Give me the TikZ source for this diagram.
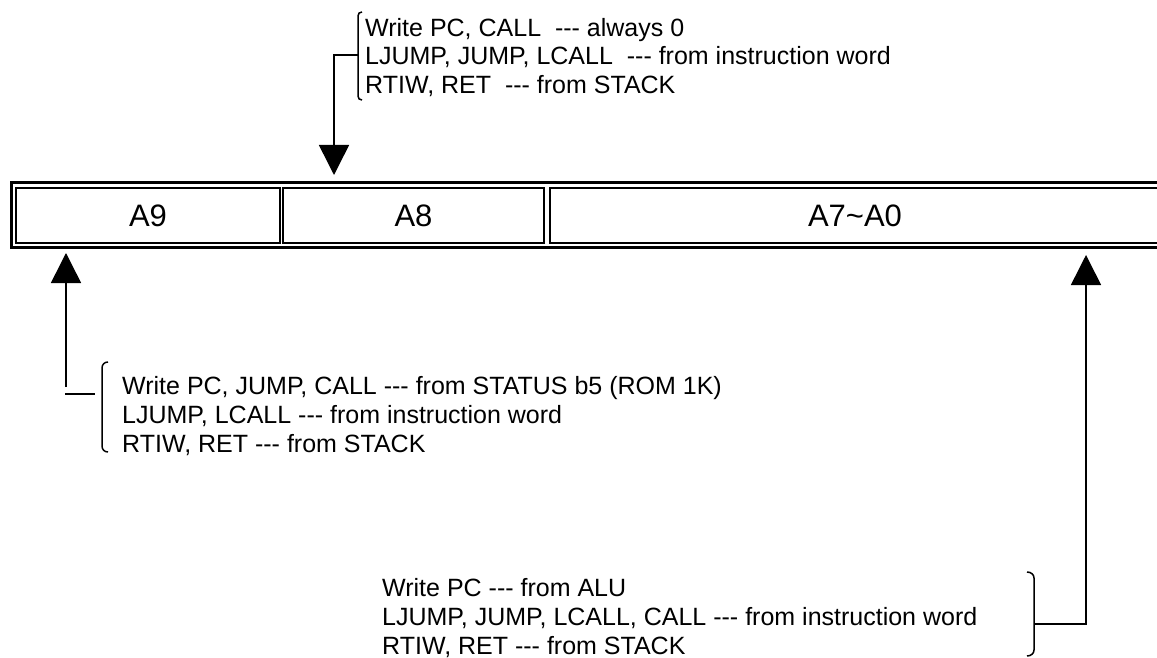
\documentclass[tikz,border=0pt]{standalone}
\usepackage{fontspec}
\newfontfamily\arial{Liberation Sans}
\usetikzlibrary{arrows.meta}
\newcommand{\dsh}{-{}-{}-}
\tikzset{
  regbox/.style={draw, line width=1.5pt, inner sep=0pt, minimum height=55pt,
    font=\arial\fontsize{31}{36}\selectfont},
  note/.style={anchor=west, inner sep=0pt, align=left,
    font=\arial\fontsize{25}{28.75}\selectfont},
  wire/.style={line width=1.5pt},
  bigarrow/.style={wire, -{Triangle[width=30pt,length=30pt]}},
  bracket/.style={line width=1.5pt}
}
\begin{document}
\begin{tikzpicture}[x=1pt,y=-1pt]
\useasboundingbox (0,0) rectangle (1157,658);
% register
\draw[line width=3pt] (11,183) rectangle (1190,247);
\node[regbox, minimum width=264pt] (a9) at (148,215.5) {A9};
\node[regbox, minimum width=261pt] (a8) at (413.5,215.5) {A8};
\node[regbox, minimum width=610pt] (a70) at (855,215.5) {A7\textasciitilde A0};
% top note
\node[note] (topnote) at (365,57.5) {Write PC, CALL\ \ \dsh{} always 0\\LJUMP, JUMP, LCALL\ \ \dsh{} from instruction word\\RTIW, RET\ \ \dsh{} from STACK};
\draw[bracket] (362,12) .. controls (359.5,12) and (358,13.5) .. (358,16) -- (358,96) .. controls (358,98.5) and (359.5,100) .. (362,100);
\coordinate (tb) at (358,55);
\coordinate (ttip) at (334,175);
\draw[bigarrow] (tb) -| (ttip);
% left note
\node[note] (leftnote) at (122,416) {Write PC, JUMP, CALL \dsh{} from STATUS b5 (ROM 1K)\\LJUMP, LCALL \dsh{} from instruction word\\RTIW, RET \dsh{} from STACK};
\draw[bracket] (108,362) .. controls (104.5,362) and (102,364.5) .. (102,368) -- (102,446) .. controls (102,449.5) and (104.5,452) .. (108,452);
\coordinate (lstub1) at (65,394);
\coordinate (lstub2) at (95,394);
\draw[wire] (lstub1) -- (lstub2);
\coordinate (lbot) at (66,387);
\coordinate (ltip) at (66,253);
\draw[bigarrow] (lbot) -- (ltip);
% bottom note
\node[note] (botnote) at (382,618) {Write PC \dsh{} from ALU\\LJUMP, JUMP, LCALL, CALL \dsh{} from instruction word\\RTIW, RET \dsh{} from STACK};
\draw[bracket] (1027,572) .. controls (1031,572) and (1034,574.5) .. (1034,578) -- (1034,650) .. controls (1034,653.5) and (1031,656) .. (1027,656);
\coordinate (rb) at (1034,624);
\coordinate (rtip) at (1086,255);
\draw[bigarrow] (rb) -| (rtip);
\end{tikzpicture}
\end{document}
